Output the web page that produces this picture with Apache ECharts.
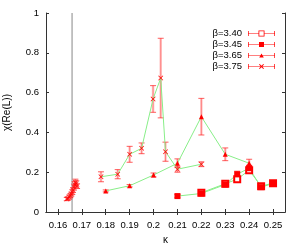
<!DOCTYPE html>
<html><head><meta charset="utf-8">
<script src="https://cdn.jsdelivr.net/npm/echarts@6/dist/echarts.min.js"></script>
<style>html,body{margin:0;padding:0;background:#fff}#c{width:300px;height:245px}</style>
</head><body><div id="c"></div>
<script>
// ---- data ----
const xTicks = [0.16,0.17,0.18,0.19,0.20,0.21,0.22,0.23,0.24,0.25];
const yTicks = [0,0.2,0.4,0.6,0.8,1];
const kappaC = 0.1659;

const k340 = [0.22,0.23,0.235,0.24,0.245,0.25];
const c340 = [0.097,0.142,0.165,0.21,0.13,0.145];
const e340 = [0.01,0.01,0.015,0.012,0.01,0.008];

const k345 = [0.21,0.22,0.23,0.235,0.24,0.245,0.25];
const c345 = [0.080,0.093,0.138,0.19,0.22,0.125,0.143];
const e345 = [0.008,0.008,0.01,0.015,0.015,0.01,0.008];

const k365 = [0.18,0.19,0.20,0.21,0.22,0.23,0.24];
const c365 = [0.106,0.132,0.186,0.245,0.479,0.29,0.245];
const e365 = [0.005,0.006,0.01,0.022,0.092,0.032,0.02];

const k375 = [0.178,0.185,0.19,0.195,0.1998,0.203,0.205,0.21,0.22];
const c375 = [0.177,0.19,0.29,0.32,0.568,0.673,0.303,0.215,0.24];
const e375 = [0.025,0.023,0.04,0.027,0.067,0.2,0.048,0.015,0.012];

const kClu = [0.1637,0.1642,0.1647,0.1652,0.1656,0.1660,0.1663,0.1667,0.1670,0.1673,0.1677,0.1680];
const cClu = [0.065,0.068,0.075,0.082,0.090,0.100,0.110,0.125,0.138,0.150,0.142,0.130];
const eClu = [0.008,0.008,0.01,0.01,0.01,0.012,0.012,0.015,0.015,0.015,0.015,0.012];

const names = ['β=3.40','β=3.45','β=3.65','β=3.75'];

// ---- styling ----
const FONT = '"Liberation Sans",Arial,sans-serif';
const RED = '#ff0000';
const GREEN = '#88ee88';
const XSYM = 'path://M0,1L1,0L5,4L9,0L10,1L6,5L10,9L9,10L5,6L1,10L0,9L4,5Z';
const baseIcon = 'M0,1.5H0.7V6.5H0Z M26.3,1.5H27V6.5H26.3Z ';
const lineFull = 'M0,3.7H27V4.3H0Z ';
const lineSplit = 'M0,3.7H10.5V4.3H0Z M16.5,3.7H27V4.3H16.5Z ';
const icons = [
  'path://' + baseIcon + lineSplit + 'M10.5,1H16.5V7H10.5Z M11.3,1.8V6.2H15.7V1.8Z',
  'path://' + baseIcon + lineFull + 'M11,1.5H16V6.5H11Z',
  'path://' + baseIcon + lineFull + 'M13.5,2L15.8,6H11.2Z',
  'path://' + baseIcon + lineFull + 'M11,2L11.7,1.5L13.5,3.3L15.3,1.5L16,2L14.2,4L16,6L15.3,6.5L13.5,4.7L11.7,6.5L11,6L12.8,4Z'
];

function zip(k, c) { return k.map((v, i) => [v, c[i]]); }
function zip3(k, c, e) { return k.map((v, i) => [v, c[i], e[i]]); }

function errSeries(k, c, e) {
  return {
    type: 'custom', silent: true, z: 3,
    data: zip3(k, c, e),
    renderItem: function (params, api) {
      const x = api.value(0), y = api.value(1), d = api.value(2);
      const lo = api.coord([x, y - d]), hi = api.coord([x, y + d]);
      const w = 3;
      return {
        type: 'group', children: [
          { type: 'line', shape: { x1: lo[0], y1: lo[1], x2: hi[0], y2: hi[1] }, style: { stroke: 'rgba(255,110,110,0.4)', lineWidth: 2.5 } },
          { type: 'line', shape: { x1: lo[0], y1: lo[1], x2: hi[0], y2: hi[1] }, style: { stroke: 'rgba(255,40,40,0.55)', lineWidth: 0.8 } },
          { type: 'line', shape: { x1: lo[0] - w, y1: lo[1], x2: lo[0] + w, y2: lo[1] }, style: { stroke: 'rgba(255,40,40,0.75)', lineWidth: 1 } },
          { type: 'line', shape: { x1: hi[0] - w, y1: hi[1], x2: hi[0] + w, y2: hi[1] }, style: { stroke: 'rgba(255,40,40,0.75)', lineWidth: 1 } }
        ]
      };
    }
  };
}

function lineSeries(name, k, c, symbol, size, empty) {
  return {
    name: name, type: 'line', z: 4,
    data: zip(k, c),
    symbol: symbol, symbolSize: size, showAllSymbol: true,
    lineStyle: { color: GREEN, width: 1 },
    itemStyle: empty ? { color: RED, borderColor: RED, borderWidth: 1 } : { color: RED },
    emphasis: { disabled: true },
    animation: false
  };
}

const chart = echarts.init(document.getElementById('c'), null, { renderer: 'canvas' });
const fmt = v => String(parseFloat(Number(v).toFixed(3)));

chart.setOption({
  animation: false,
  textStyle: { fontFamily: FONT },
  grid: { left: 46, right: 15, top: 13, bottom: 33, outerBoundsMode: 'none', containLabel: false },
  legend: {
    orient: 'vertical', right: 20, top: 23, align: 'right',
    itemWidth: 27, itemHeight: 8, itemGap: 0,
    data: names.map((n, i) => ({ name: n, icon: icons[i], itemStyle: { color: RED, borderWidth: 0, borderColor: 'transparent' } })),
    textStyle: { fontFamily: FONT, fontSize: 9.5, color: '#000', lineHeight: 11, padding: [0, 1, 0, 0] },
    selectedMode: false
  },
  xAxis: [{
    type: 'value', min: 0.155, max: 0.255,
    name: 'κ', nameLocation: 'middle', nameGap: 23,
    nameTextStyle: { fontFamily: FONT, fontSize: 10, color: '#000' },
    axisLine: { lineStyle: { color: '#333' } },
    axisTick: { inside: true, length: 3, customValues: xTicks, lineStyle: { color: '#333' } },
    axisLabel: { customValues: xTicks, formatter: fmt, fontFamily: FONT, fontSize: 9.5, color: '#000', margin: 8 },
    splitLine: { show: false }
  }, {
    type: 'value', min: 0.155, max: 0.255, position: 'top',
    axisLine: { lineStyle: { color: '#333' } },
    axisTick: { inside: true, length: 3, customValues: xTicks, lineStyle: { color: '#333' } },
    axisLabel: { show: false }, splitLine: { show: false }
  }],
  yAxis: [{
    type: 'value', min: 0, max: 1, interval: 0.2,
    name: 'χ(Re(L))', nameLocation: 'middle', nameGap: 34,
    nameTextStyle: { fontFamily: FONT, fontSize: 10, color: '#000' },
    axisLine: { show: true, lineStyle: { color: '#333' } },
    axisTick: { show: true, inside: true, length: 3, lineStyle: { color: '#333' } },
    axisLabel: { formatter: fmt, fontFamily: FONT, fontSize: 9.5, color: '#000', margin: 7 },
    splitLine: { show: false }
  }, {
    type: 'value', min: 0, max: 1, interval: 0.2, position: 'right',
    axisLine: { show: true, lineStyle: { color: '#333' } },
    axisTick: { show: true, inside: true, length: 3, lineStyle: { color: '#333' } },
    axisLabel: { show: false }, splitLine: { show: false }
  }],
  series: [
    {
      type: 'line', silent: true, z: 1, symbol: 'none',
      data: [[kappaC, 0], [kappaC, 1]],
      lineStyle: { color: '#888', width: 1 }
    },
    errSeries(kClu, cClu, eClu),
    errSeries(k340, c340, e340),
    errSeries(k345, c345, e345),
    errSeries(k365, c365, e365),
    errSeries(k375, c375, e375),
    lineSeries(names[0], k340, c340, 'emptyRect', 6, true),
    lineSeries(names[1], k345, c345, 'rect', 6, false),
    lineSeries(names[2], k365, c365, 'triangle', 5, false),
    lineSeries(names[3], k375, c375, XSYM, 5, false),
    {
      type: 'scatter', z: 4, data: zip(kClu, cClu), symbol: XSYM, symbolSize: 5,
      itemStyle: { color: RED }, silent: true
    }
  ]
});
</script>
</body></html>
